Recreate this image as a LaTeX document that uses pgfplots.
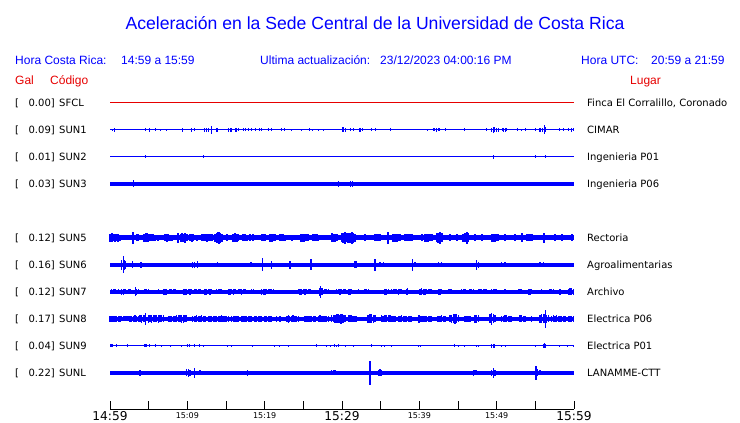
\documentclass[border=0pt]{standalone}
\usepackage{fontspec}
\setmainfont{DejaVu Sans}
\newfontfamily\hel{Liberation Sans}
\usepackage{pgfplots}
\usepackage{pgfplotstable}
\pgfplotsset{compat=1.18}
\definecolor{tblue}{RGB}{0,0,255}
\definecolor{tred}{RGB}{230,0,0}

% spike tables: t = minutes after 14:59, a = half amplitude (pt)
\pgfplotstableread[row sep=\\]{t a\\
0.30 1.2\\ 0.56 2\\ 4.61 1.5\\ 5.09 2\\ 5.82 1.5\\ 6.51 1.2\\ 7.28 1.2\\ 9.35 2\\ 10.56 2\\ 10.99 1.5\\
12.28 2\\ 12.50 2\\ 12.72 2\\ 13.10 4.3\\ 13.71 2\\ 13.79 2\\ 13.92 2\\ 15.30 2\\ 15.52 2\\ 15.73 2\\
16.25 2\\ 16.42 2\\ 16.59 1.5\\ 17.24 1.5\\ 17.46 1.5\\ 17.89 1.5\\ 18.32 1.5\\ 18.84 1.5\\ 19.31 1.5\\ 19.61 1.5\\
20.47 1.5\\ 20.82 1.5\\ 22.20 1.5\\ 22.54 1.5\\ 23.49 1.2\\ 24.70 1.2\\ 25.77 1.5\\ 26.20 1.2\\ 26.94 1.2\\ 27.58 1.2\\
30.04 2.5\\ 30.20 2.5\\ 30.39 2\\ 31.16 1.5\\ 31.46 1.5\\ 32.24 2\\ 32.45 2\\ 32.67 1.5\\ 33.75 1.5\\ 34.39 1.5\\ 36.33 1.5\\
41.08 1.2\\ 41.81 1.5\\ 42.02 1.5\\ 42.24 2\\ 42.45 1.5\\ 42.67 1.5\\ 43.32 1.5\\ 45.82 1.5\\ 48.71 1.5\\
49.35 2\\ 49.57 3\\ 49.78 2.5\\ 50.00 2\\ 50.21 2\\ 50.73 1.5\\ 50.90 2\\ 51.08 2\\ 51.29 1.5\\ 52.71 1.5\\ 53.23 1.2\\
53.75 1.5\\ 55.08 1.5\\ 55.52 2\\ 55.70 2\\ 55.90 2\\ 56.16 4.5\\ 56.33 2.5\\ 58.06 1.5\\ 58.62 1.5\\ 59.35 1.5\\ 59.70 2\\ 59.91 1.5\\
}\sunone

\pgfplotstableread[row sep=\\]{t a\\
4.57 1.5\\ 12.07 1.5\\ 49.57 1.8\\ 55.08 1.5\\ 56.29 1.5\\
}\suntwo

\pgfplotstableread[row sep=\\]{t a\\
3.02 3.5\\ 29.61 3\\ 31.16 3\\ 31.38 3\\
}\sunthree

\pgfplotstableread[row sep=\\]{t a\\
0.00 4\\ 0.22 4.5\\ 0.43 3.5\\ 0.65 4\\ 0.86 3.5\\ 1.08 4\\ 1.29 3\\ 3.02 6\\ 3.45 3.5\\ 3.66 3.5\\
4.44 4\\ 4.61 4.5\\ 4.74 4.5\\ 4.96 4\\ 5.17 3.5\\ 5.39 3.5\\ 5.60 3.5\\ 5.82 3\\ 6.25 3\\
7.11 3.5\\ 7.33 4\\ 7.54 3.5\\ 7.76 3\\ 7.97 3\\ 8.75 5\\ 9.18 4\\ 9.35 4.5\\ 9.48 4\\ 9.70 5\\ 9.91 3.5\\
10.34 3.5\\ 10.56 4\\ 10.78 3.5\\ 11.21 3\\ 11.85 3.5\\ 12.07 3.5\\ 12.28 3.5\\ 12.50 4\\ 12.72 3.5\\ 12.93 3.5\\ 13.15 3.5\\
13.58 4\\ 13.79 5\\ 14.01 5.5\\ 14.14 6\\ 14.22 5\\ 14.44 4\\ 15.09 3.5\\ 15.95 4\\ 16.16 4.5\\ 16.38 4\\ 16.59 3.5\\
17.24 3.5\\ 17.46 3.5\\ 17.67 3\\ 18.10 3.5\\ 18.53 3.5\\ 19.61 3.5\\ 19.83 3.5\\ 20.04 3.5\\
20.69 4\\ 20.90 4\\ 21.12 3.5\\ 21.33 3.5\\ 21.98 3.5\\ 22.20 3.5\\ 22.41 3.5\\ 22.63 3\\ 23.49 3\\
24.70 4\\ 24.91 4\\ 25.13 4\\ 25.34 3.5\\ 25.64 3.5\\ 26.29 3.5\\ 26.51 3.5\\ 26.72 3.5\\ 26.94 3\\
28.66 4.5\\ 28.88 4\\ 29.09 4\\ 29.31 3.5\\ 29.96 4.5\\ 30.17 5\\ 30.39 6\\ 30.61 4.5\\ 30.82 5\\ 31.04 5\\ 31.33 6\\ 31.46 5\\ 31.68 4\\
32.97 3.5\\ 34.26 3.5\\ 34.48 3.5\\ 34.70 3.5\\ 34.91 3.5\\ 35.99 6\\ 36.63 4\\ 36.85 4\\ 37.07 4\\ 37.28 3.5\\ 37.50 3.5\\
38.14 3.5\\ 38.36 3.5\\ 38.58 3.5\\ 38.79 3.5\\ 39.01 3.5\\ 40.30 3.5\\
40.73 4\\ 40.95 4\\ 41.16 4\\ 41.38 3.5\\ 41.59 3.5\\ 42.24 4.5\\ 42.45 5\\ 42.67 6\\ 42.89 4.5\\ 43.96 3.5\\ 44.83 3.5\\
45.69 4\\ 45.90 4.5\\ 46.12 5\\ 46.20 6\\ 46.33 4.5\\ 47.20 3.5\\ 48.06 3.5\\ 49.35 4\\ 49.57 4\\ 49.78 4\\ 50.00 3.5\\ 50.21 3.5\\
51.08 3.5\\ 52.37 3.5\\ 53.23 4.5\\ 53.88 3.5\\ 54.09 3.5\\ 54.31 3.5\\ 54.52 3.5\\ 56.16 5\\ 57.54 3.5\\ 58.40 3.5\\ 59.70 3.5\\
}\sunfive

\pgfplotstableread[row sep=\\]{t a\\
0.87 2\\ 1.51 5\\ 1.72 8.5\\ 1.85 5\\ 2.03 4\\ 2.89 3.5\\ 3.45 2\\ 4.01 3\\ 4.31 2\\ 4.74 2\\ 5.39 2\\ 5.82 2\\
8.41 2\\ 9.27 2\\ 9.91 2\\ 10.65 3\\ 10.91 3\\ 11.34 3.5\\ 13.15 2\\ 13.92 2.5\\ 14.96 2\\ 15.73 2\\ 16.59 2\\ 18.23 2.5\\ 19.70 6.5\\
20.47 2\\ 20.90 4\\ 21.76 2\\ 23.27 4\\ 24.26 2\\ 25.21 2\\ 25.99 5.5\\ 27.58 2\\ 28.66 2\\ 29.96 2\\ 31.68 3.5\\ 31.89 3.5\\
32.97 2\\ 34.26 6\\ 34.91 2.5\\ 35.34 2.5\\ 35.99 2\\ 37.07 2\\ 37.28 2\\ 39.09 6\\ 39.44 2.5\\ 40.08 2\\
41.16 2\\ 41.59 2\\ 42.45 2.5\\ 42.89 2.5\\ 43.75 2\\ 44.61 2\\ 45.90 2\\ 47.41 5\\ 47.63 3\\ 48.92 2\\ 50.65 2.5\\ 51.08 2.5\\
52.37 2\\ 53.66 2\\ 55.60 2.5\\ 56.03 2.5\\ 56.68 2\\ 58.84 2\\ 59.70 2\\
}\sunsix

\pgfplotstableread[row sep=\\]{t a\\
0.22 2.5\\ 0.43 2.5\\ 0.65 2.5\\ 1.08 2.5\\ 1.51 3\\ 1.72 3\\ 1.94 2.5\\ 2.37 2.5\\ 2.59 2.5\\ 3.32 4.5\\ 3.45 3\\ 3.66 2.5\\
4.53 2.5\\ 4.74 2.5\\ 4.96 2.5\\ 6.25 2.5\\ 6.90 3\\ 7.11 3\\ 7.33 3\\ 7.76 2.5\\ 7.97 2.5\\ 8.19 2.5\\ 8.41 2.5\\
9.48 3\\ 9.70 3\\ 9.91 3\\ 10.13 2.5\\ 10.34 3\\ 10.56 2.5\\ 10.99 2.5\\ 11.21 2.5\\ 11.42 2.5\\ 11.64 2.5\\
12.28 3\\ 12.50 3\\ 12.72 2.5\\ 12.93 3\\ 13.15 2.5\\ 13.79 2.5\\ 14.01 2.5\\ 14.22 2.5\\ 14.44 2.5\\
15.30 3\\ 15.52 3\\ 15.73 2.5\\ 15.95 3\\ 16.16 2.5\\ 16.59 2.5\\ 16.81 2.5\\ 17.03 3\\ 17.24 2.5\\ 17.46 2.5\\
18.32 2.5\\ 18.53 2.5\\ 19.61 3\\ 19.83 3\\ 20.04 3\\ 20.25 2.5\\ 20.47 2.5\\ 20.69 2.5\\ 20.90 2.5\\ 21.12 2.5\\
24.35 2.5\\ 24.56 3\\ 24.78 3\\ 24.99 2.5\\ 25.21 3\\ 25.43 2.5\\ 25.64 2.5\\ 25.86 2.5\\ 27.10 4\\ 27.24 6\\ 27.40 3.5\\
27.80 2.5\\ 28.01 2.5\\ 28.23 2.5\\ 29.31 2.5\\ 29.52 2.5\\ 29.74 3\\ 29.96 2.5\\ 30.17 2.5\\ 30.39 2.5\\
30.82 3\\ 31.04 3\\ 31.25 2.5\\ 32.11 2.5\\ 32.97 2.5\\ 33.19 2.5\\ 33.40 2.5\\ 35.56 3\\ 35.77 3\\ 35.99 2.5\\
36.42 2.5\\ 36.63 2.5\\ 36.85 2.5\\ 37.07 2.5\\ 37.28 3\\ 37.50 2.5\\ 37.71 2.5\\ 38.36 3\\ 38.49 3.5\\
40.08 3\\ 40.30 3.5\\ 40.51 3\\ 40.73 3\\ 40.95 2.5\\ 41.16 2.5\\ 41.38 2.5\\ 41.59 2.5\\ 42.45 3\\ 42.67 3\\ 42.89 2.5\\
43.75 2.5\\ 43.96 2.5\\ 44.18 2.5\\ 45.47 2.5\\ 45.69 2.5\\ 45.90 2.5\\ 46.55 2.5\\ 46.76 2.5\\ 46.98 2.5\\
47.63 2.5\\ 47.84 2.5\\ 48.06 2.5\\ 48.28 2.5\\ 48.49 2.5\\ 48.71 2.5\\ 49.35 2.5\\ 49.57 2.5\\ 49.78 2.5\\ 50.00 2.5\\
51.08 2.5\\ 52.80 2.5\\ 53.02 2.5\\ 53.23 2.5\\ 54.09 3\\ 54.31 3\\ 54.52 2.5\\ 55.82 2.5\\ 56.90 2.5\\ 57.11 2.5\\ 57.33 2.5\\
58.19 3\\ 59.27 3\\ 59.48 3.5\\ 59.70 3.5\\ 59.91 3\\
}\sunseven

\pgfplotstableread[row sep=\\]{t a\\
0.00 3\\ 0.22 3\\ 0.43 3\\ 0.65 3\\ 0.86 3\\ 1.08 3\\ 1.29 3\\ 1.51 2.5\\ 1.72 2.5\\ 1.94 2.5\\ 2.16 2.5\\ 2.37 2.5\\
2.59 3\\ 2.80 3\\ 3.02 3\\ 3.23 3.5\\ 3.45 3\\ 3.66 3\\ 3.88 3.5\\ 4.09 4\\ 4.31 3.5\\ 4.44 3.5\\ 4.61 6\\
4.96 4\\ 5.17 3.5\\ 5.39 4\\ 5.60 3.5\\ 5.82 3.5\\ 6.03 3.5\\ 6.25 4\\ 6.46 3.5\\ 6.68 3.5\\ 6.90 3.5\\
7.54 3\\ 7.76 3\\ 7.97 3\\ 8.19 3\\ 8.41 3\\ 8.62 3.5\\ 8.84 3.5\\ 9.05 3.5\\ 9.27 4\\ 9.48 4\\ 9.70 3.5\\ 9.91 3.5\\
10.65 3\\ 10.99 3\\ 11.21 3.5\\ 11.42 3\\ 11.64 3\\ 11.85 3.5\\ 12.07 3\\ 12.28 3\\ 12.72 3\\ 12.93 3\\ 13.15 3\\
13.36 3\\ 13.58 3\\ 13.79 3\\ 14.01 3\\ 14.22 3\\ 14.44 3.5\\ 14.65 3\\ 14.87 3\\ 15.09 3\\ 15.30 3\\
15.73 3\\ 15.95 3\\ 16.16 3\\ 16.38 3\\ 16.59 3\\ 17.03 3\\ 17.24 3\\ 17.46 3\\ 17.67 3\\ 17.89 3\\ 18.10 3\\ 18.32 3\\
18.75 3\\ 18.96 3\\ 19.18 3\\ 19.40 3\\ 19.61 3\\ 20.04 3\\ 20.25 3\\ 20.47 3\\ 20.69 3\\ 20.90 3\\ 21.55 3\\ 21.98 3\\
22.90 3\\ 23.06 4\\ 23.20 3\\ 23.49 3\\ 23.70 3.5\\ 23.92 3\\ 24.13 3\\ 24.35 3\\
25.21 3\\ 25.43 3\\ 25.64 3\\ 25.86 3\\ 26.07 3\\ 26.29 3\\ 26.51 3\\ 26.94 3\\ 27.15 3.5\\ 27.37 3\\ 27.58 3\\ 27.80 3\\ 28.01 3\\ 28.23 3\\
28.66 3.5\\ 28.88 3.5\\ 29.09 4\\ 29.31 4.5\\ 29.52 4.5\\ 29.74 4\\ 29.87 5\\ 30.04 4.5\\ 30.17 4\\ 30.39 3.5\\
30.82 3.5\\ 31.04 3.5\\ 31.25 3.5\\ 31.46 3\\ 31.68 3\\ 31.89 3\\ 33.40 4\\ 33.62 4.5\\ 33.83 4.5\\ 34.05 4\\ 34.26 3.5\\
35.13 3.5\\ 35.34 3\\ 35.56 3.5\\ 35.77 3.5\\ 35.99 3.5\\ 36.20 3.5\\ 36.42 3\\ 36.63 3\\ 36.85 3\\
37.28 3\\ 37.50 3\\ 37.71 3.5\\ 37.93 3\\ 38.14 3\\ 38.36 3\\ 38.58 3\\ 38.79 3\\ 39.01 3\\ 39.95 4\\ 40.08 3\\ 40.30 3\\ 40.51 3\\
40.73 3\\ 40.95 3\\ 41.16 3\\ 41.38 3\\ 41.59 3\\ 42.45 3\\ 42.67 3\\ 42.89 3.5\\ 43.10 3\\ 43.32 3\\
43.96 3.5\\ 44.18 4\\ 44.40 4.5\\ 44.61 5\\ 44.83 4.5\\ 45.04 3.5\\ 45.90 3\\ 46.12 3\\ 46.33 3\\ 46.55 3\\
47.20 4\\ 47.41 4\\ 47.63 3.5\\ 49.14 4.5\\ 49.35 6\\ 49.57 4.5\\ 49.78 3.5\\
50.65 3\\ 50.86 3\\ 51.08 3.5\\ 51.29 3.5\\ 51.51 3\\ 51.72 3\\ 51.94 3\\ 53.02 3.5\\ 53.23 3.5\\ 53.45 3\\ 53.66 3\\ 54.52 3\\
55.60 4\\ 55.82 4.5\\ 56.03 4.5\\ 56.25 4.5\\ 56.29 9\\ 56.46 4\\ 56.68 3.5\\
57.11 3\\ 57.33 3.5\\ 57.54 3\\ 57.76 3.5\\ 57.97 3\\ 58.19 3\\ 58.40 3\\ 58.62 3\\ 58.84 3\\ 59.27 3\\ 59.48 3\\ 59.70 3\\ 59.91 3\\
}\suneight

\pgfplotstableread[row sep=\\]{t a\\
0.00 1.5\\ 0.15 1.5\\ 0.30 1.5\\ 0.86 1.5\\ 2.24 1.5\\ 4.44 1.5\\ 4.61 1.5\\ 4.74 1.5\\ 5.09 1.5\\ 5.82 1.5\\
6.68 1.2\\ 7.84 1.2\\ 9.27 1.2\\ 10.04 1.5\\ 10.34 1.5\\ 10.91 1.5\\ 11.51 1.5\\ 12.11 1.2\\ 15.17 1.2\\ 15.73 1.2\\ 18.41 1.2\\
21.33 1.2\\ 21.98 1.2\\ 23.14 1.2\\ 26.72 1.5\\ 28.01 1.2\\ 28.45 1.2\\ 29.09 1.5\\ 29.35 1.2\\ 29.61 1.5\\ 30.39 1.2\\
31.46 1.2\\ 33.83 1.5\\ 35.13 1.2\\ 35.56 1.2\\ 36.42 1.2\\ 39.95 1.2\\ 40.21 1.2\\
44.52 1.5\\ 45.04 1.2\\ 45.82 1.2\\ 47.41 1.2\\ 47.71 1.2\\ 49.35 2\\ 49.57 2\\ 49.78 2\\ 50.65 1.2\\ 51.08 1.2\\
55.08 1.2\\ 56.03 2\\ 56.16 2.5\\ 56.29 2\\ 58.06 1.2\\ 59.14 1.2\\ 59.98 1.2\\
}\sunnine

\pgfplotstableread[row sep=\\]{t a\\
3.88 3\\ 4.96 2\\ 5.60 2\\ 6.25 2\\ 6.90 2\\ 9.91 3.5\\ 10.13 4\\ 10.34 3\\ 10.91 5\\ 11.64 2.5\\ 12.28 2\\ 17.80 3\\
22.20 2\\ 24.13 2\\ 24.35 2\\ 26.42 2\\ 28.66 2.5\\ 28.88 2.5\\ 29.09 2.5\\ 29.52 2\\ 30.39 2\\ 33.62 12\\
34.70 3\\ 34.91 3.5\\ 35.13 3\\ 38.79 2\\ 40.08 2\\ 40.30 2\\
42.67 2\\ 46.98 3\\ 47.20 2.5\\ 47.41 2.5\\ 49.35 3\\ 49.57 5\\ 49.78 3\\ 51.08 2\\ 51.94 2\\ 53.23 2\\
55.08 7\\ 55.20 3.5\\ 55.60 2.5\\ 58.84 2\\ 59.70 2\\
}\sunL

\newcommand{\lab}[4]{%
  \node[anchor=base west,inner sep=0] at (15pt,#1pt) [yshift=-3.7pt] {\fontsize{10pt}{12pt}\selectfont [};
  \node[anchor=base east,inner sep=0] at (55pt,#1pt) [yshift=-3.7pt] {\fontsize{10pt}{12pt}\selectfont #2]};
  \node[anchor=base west,inner sep=0] at (59pt,#1pt) [yshift=-3.7pt] {\fontsize{10pt}{12pt}\selectfont #3};
  \node[anchor=base west,inner sep=0] at (587pt,#1pt) [yshift=-3.7pt] {\fontsize{10pt}{12pt}\selectfont #4};
}

\pgfplotsset{
  spikes/.style={draw=none, mark=none, forget plot,
    error bars/.cd, y dir=both, y explicit, error mark=none,
    error bar style={draw=tblue, line width=#1}},
  base/.style={tblue, line width=#1, mark=none, forget plot},
}

\begin{document}
\begin{tikzpicture}
\path (0pt,0pt) rectangle (740pt,423pt);

% title and headers
\node[anchor=base,inner sep=0,text=tblue] at (375pt,393pt) {\hel\fontsize{17.6pt}{20pt}\selectfont Aceleración en la Sede Central de la Universidad de Costa Rica};
\begin{scope}[every node/.style={anchor=base west,inner sep=0,text=tblue,font=\hel\fontsize{12pt}{14pt}\selectfont}]
\node at (15pt,358pt) {Hora Costa Rica:};
\node at (121pt,358pt) {14:59 a 15:59};
\node at (260pt,358pt) {Ultima actualización:};
\node at (380pt,358pt) {23/12/2023 04:00:16 PM};
\node at (581pt,358pt) {Hora UTC:};
\node at (651pt,358pt) {20:59 a 21:59};
\end{scope}
\begin{scope}[every node/.style={anchor=base west,inner sep=0,text=tred,font=\hel\fontsize{12pt}{14pt}\selectfont}]
\node at (15pt,338pt) {Gal};
\node at (50pt,338pt) {Código};
\node at (630pt,338pt) {Lugar};
\end{scope}

\lab{320}{0.00}{SFCL}{Finca El Corralillo, Coronado}
\lab{293}{0.09}{SUN1}{CIMAR}
\lab{266}{0.01}{SUN2}{Ingenieria P01}
\lab{239}{0.03}{SUN3}{Ingenieria P06}
\lab{185}{0.12}{SUN5}{Rectoria}
\lab{158}{0.16}{SUN6}{Agroalimentarias}
\lab{131}{0.12}{SUN7}{Archivo}
\lab{104}{0.17}{SUN8}{Electrica P06}
\lab{77}{0.04}{SUN9}{Electrica P01}
\lab{50}{0.22}{SUNL}{LANAMME-CTT}

\begin{axis}[
  at={(110pt,14pt)}, anchor=south west,
  scale only axis, width=464pt, height=409pt,
  xmin=0, xmax=60, ymin=14, ymax=423,
  clip=false,
  axis x line*=bottom, axis y line=none,
  axis line style={-, black, line width=0.8pt},
  xtick={0,10,20,30,40,50,60},
  minor xtick={5,15,25,35,45,55},
  xticklabels={{\fontsize{12.2pt}{14pt}\selectfont 14:59},
               {\raisebox{2pt}{\fontsize{8pt}{10pt}\selectfont 15:09}},
               {\raisebox{2pt}{\fontsize{8pt}{10pt}\selectfont 15:19}},
               {\fontsize{12.2pt}{14pt}\selectfont 15:29},
               {\raisebox{2pt}{\fontsize{8pt}{10pt}\selectfont 15:39}},
               {\raisebox{2pt}{\fontsize{8pt}{10pt}\selectfont 15:49}},
               {\fontsize{12.2pt}{14pt}\selectfont 15:59}},
  xticklabel style={anchor=base, inner sep=0pt, yshift=-11.5pt},
  tick align=inside,
  major tick length=8pt, minor tick length=8pt,
  tick style={black, line width=0.8pt},
]
% base traces
\addplot[tred, line width=1pt, mark=none] coordinates {(0,320) (60,320)};
\addplot[base=1pt] coordinates {(0,293) (60,293)};
\addplot[base=1pt] coordinates {(0,266) (60,266)};
\addplot[base=3.8pt] coordinates {(0,239) (60,239)};
\addplot[base=5pt] coordinates {(0,185) (60,185)};
\addplot[base=3.4pt] coordinates {(0,158) (60,158)};
\addplot[base=3.6pt] coordinates {(0,131) (60,131)};
\addplot[base=4.4pt] coordinates {(0,104) (60,104)};
\addplot[base=1pt] coordinates {(0,77) (60,77)};
\addplot[base=3.6pt] coordinates {(0,50) (60,50)};
% spikes
\addplot[spikes=1pt] table[x=t, y expr=293, y error=a] {\sunone};
\addplot[spikes=1pt] table[x=t, y expr=266, y error=a] {\suntwo};
\addplot[spikes=1pt] table[x=t, y expr=239, y error=a] {\sunthree};
\addplot[spikes=1.8pt] table[x=t, y expr=185, y error=a] {\sunfive};
\addplot[spikes=1.3pt] table[x=t, y expr=158, y error=a] {\sunsix};
\addplot[spikes=1.4pt] table[x=t, y expr=131, y error=a] {\sunseven};
\addplot[spikes=1.6pt] table[x=t, y expr=104, y error=a] {\suneight};
\addplot[spikes=1pt] table[x=t, y expr=77, y error=a] {\sunnine};
\addplot[spikes=1.3pt] table[x=t, y expr=50, y error=a] {\sunL};
\end{axis}
\end{tikzpicture}
\end{document}
